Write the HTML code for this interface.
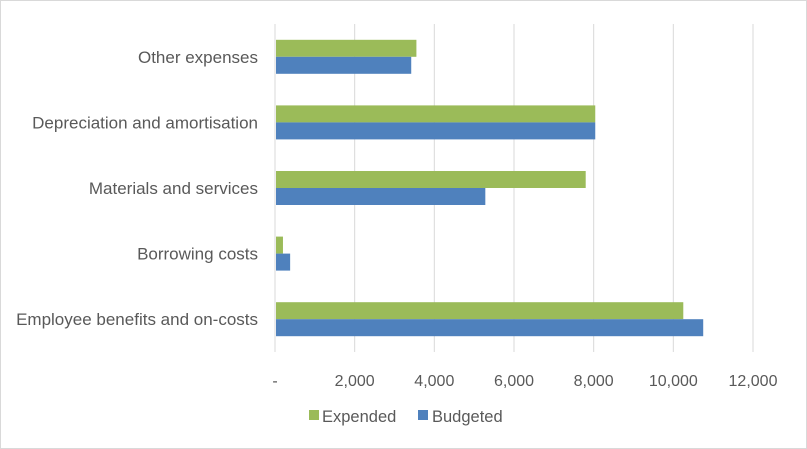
<!DOCTYPE html>
<html><head><meta charset="utf-8"><style>
html,body{margin:0;padding:0;background:#fff}
svg{display:block;font-family:"Liberation Sans",sans-serif}
</style></head><body>
<svg id="chart" width="807" height="449" xmlns="http://www.w3.org/2000/svg">
<rect x="0.5" y="0.5" width="806" height="448" fill="#fff" stroke="#d9d9d9"/>
<g id="grid"></g>
<g id="bars"></g>
<g id="labels"></g>
<g>
<rect x="309" y="410" width="10" height="10" fill="#9bbb59"/>
<text x="322" y="422" font-size="16.5" fill="#595959">Expended</text>
<rect x="418" y="410" width="10" height="10" fill="#4f81bd"/>
<text x="432" y="422" font-size="16.5" fill="#595959">Budgeted</text>
</g>
</svg>
<script>
const categories=["Other expenses","Depreciation and amortisation","Materials and services","Borrowing costs","Employee benefits and on-costs"];
const expended=[3550,8040,7800,200,10250];
const budgeted=[3420,8040,5280,380,10750];
const ticks=[0,2000,4000,6000,8000,10000,12000];
const tickLabels=["-","2,000","4,000","6,000","8,000","10,000","12,000"];
const NS="http://www.w3.org/2000/svg";
const x0=275,xMax=12000,pw=478,plotTop=24,plotBottom=352;
const xs=v=>x0+v/xMax*pw;
const band=(plotBottom-plotTop)/categories.length;
function el(t,a,p){const e=document.createElementNS(NS,t);for(const k in a)e.setAttribute(k,a[k]);document.getElementById(p).appendChild(e);return e;}
ticks.forEach((t,i)=>{
  const g=el('line',{x1:xs(t),x2:xs(t),y1:plotTop,y2:plotBottom,stroke:'#d9d9d9','stroke-width':1},'grid');
  
  
  const l=el('text',{x:xs(t),y:386,'font-size':16,fill:'#595959','text-anchor':'middle'},'labels');
  l.textContent=tickLabels[i];
  
  
});
categories.forEach((c,i)=>{
  const cy=plotTop+band*i+band/2;
  const g=el('rect',{x:xs(0)+1,y:cy-17,width:xs(expended[i])-xs(0)-1,height:17,fill:'#9bbb59'},'bars');
  
  
  const b=el('rect',{x:xs(0)+1,y:cy,width:xs(budgeted[i])-xs(0)-1,height:17,fill:'#4f81bd'},'bars');
  
  
  const l=el('text',{x:258,y:cy+6,'font-size':17,fill:'#595959','text-anchor':'end'},'labels');
  l.textContent=c;
  
  
});
</script>
</body></html>
